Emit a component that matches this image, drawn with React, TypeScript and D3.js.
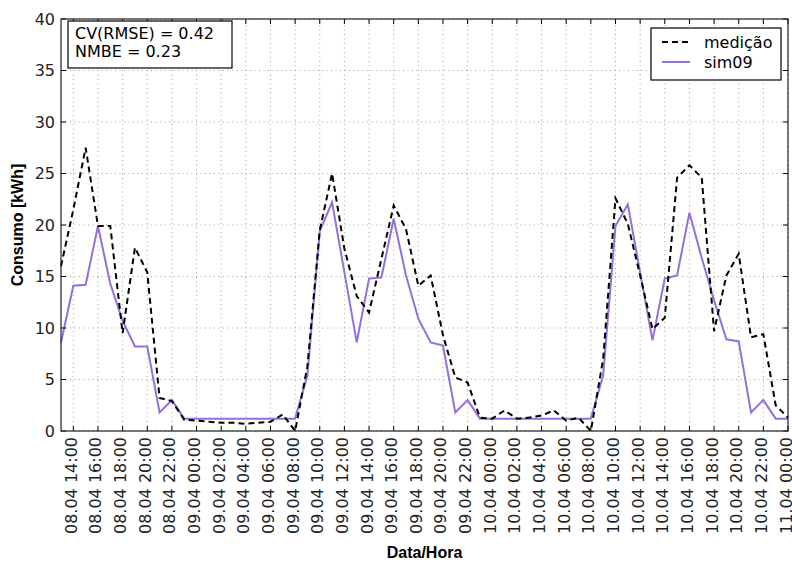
import { useEffect, useRef } from 'react';
import * as d3 from 'd3';

// hourly values, 08.04 13:00 -> 11.04 00:00
const start = new Date(2014, 3, 8, 13);
const end = new Date(2014, 3, 11, 0);

const medicao = [
  16.0, 21.5, 27.5, 19.9, 19.9, 9.5, 17.8, 15.4, 3.2, 2.9,
  1.1, 1.0, 0.9, 0.8, 0.8, 0.7, 0.8, 0.9, 1.6, 0.0,
  6.3, 19.5, 25.0, 17.7, 13.1, 11.5, 16.7, 21.9, 19.6, 14.1,
  15.1, 9.3, 5.2, 4.7, 1.3, 1.2, 2.0, 1.2, 1.3, 1.5,
  2.0, 1.0, 1.3, 0.0, 7.0, 22.6, 20.1, 15.1, 9.9, 11.0,
  24.6, 25.8, 24.6, 9.7, 15.1, 17.2, 9.1, 9.4, 2.5, 1.3,
];

const sim09 = [
  8.6, 14.1, 14.2, 19.9, 14.3, 10.7, 8.2, 8.2, 1.8, 3.0,
  1.2, 1.2, 1.2, 1.2, 1.2, 1.2, 1.2, 1.2, 1.2, 1.2,
  5.4, 19.4, 22.2, 15.4, 8.6, 14.8, 14.9, 20.6, 15.1, 10.9,
  8.6, 8.3, 1.8, 3.0, 1.2, 1.2, 1.2, 1.2, 1.2, 1.2,
  1.2, 1.2, 1.2, 1.2, 5.4, 19.9, 22.0, 15.4, 8.8, 14.8,
  15.1, 21.2, 16.8, 12.7, 8.9, 8.7, 1.8, 3.0, 1.2, 1.2,
];

const yTicks = [0, 5, 10, 15, 20, 25, 30, 35, 40];
const statsLines = ['CV(RMSE) = 0.42', 'NMBE = 0.23'];
const seriesNames = ['medição', 'sim09'];

const App = () => {
  const svgRef = useRef<SVGSVGElement>(null);

  useEffect(() => {
    const width = 792;
    const height = 563;
    const margin = { top: 19, right: 4, bottom: 132, left: 61 };
    const tickFont = 'DejaVu Sans, sans-serif';

    const svg = d3.select(svgRef.current);
    svg.selectAll('*').remove();
    svg.attr('width', width).attr('height', height);

    svg.append('rect').attr('width', width).attr('height', height).attr('fill', '#fff');

    const x = d3.scaleTime()
      .domain([start, end])
      .range([margin.left, width - margin.right]);
    const y = d3.scaleLinear()
      .domain([0, 40])
      .range([height - margin.bottom, margin.top]);

    const x0 = x.range()[0], x1 = x.range()[1];
    const y0 = y.range()[0], y1 = y.range()[1];

    const xTicks = d3.timeHour.every(2)!.range(new Date(2014, 3, 8, 14), d3.timeHour.offset(end, 1));
    const fmt = d3.timeFormat('%d.%m %H:%M');

    // grid
    const grid = svg.append('g')
      .attr('stroke', '#8a8a8a')
      .attr('stroke-width', 0.8)
      .attr('stroke-dasharray', '1,3.5');
    grid.selectAll('.gx').data(xTicks).enter().append('line')
      .attr('x1', d => x(d)).attr('x2', d => x(d))
      .attr('y1', y0).attr('y2', y1);
    grid.selectAll('.gy').data(yTicks).enter().append('line')
      .attr('x1', x0).attr('x2', x1)
      .attr('y1', d => y(d)).attr('y2', d => y(d));

    // series
    const idx = (i: number) => d3.timeHour.offset(start, i);
    const line = d3.line<number>()
      .x((_, i) => x(idx(i)))
      .y(d => y(d));

    svg.append('path')
      .datum(sim09)
      .attr('fill', 'none')
      .attr('stroke', '#9370db')
      .attr('stroke-width', 2)
      .attr('d', line);

    svg.append('path')
      .datum(medicao)
      .attr('fill', 'none')
      .attr('stroke', '#000')
      .attr('stroke-width', 2)
      .attr('stroke-dasharray', '6,4')
      .attr('d', line);

    // ticks (inward, all four sides)
    const ticks = svg.append('g').attr('stroke', '#000').attr('stroke-width', 1);
    xTicks.forEach(t => {
      ticks.append('line').attr('x1', x(t)).attr('x2', x(t)).attr('y1', y0).attr('y2', y0 - 5);
      ticks.append('line').attr('x1', x(t)).attr('x2', x(t)).attr('y1', y1).attr('y2', y1 + 5);
    });
    yTicks.forEach(t => {
      ticks.append('line').attr('x1', x0).attr('x2', x0 + 5).attr('y1', y(t)).attr('y2', y(t));
      ticks.append('line').attr('x1', x1).attr('x2', x1 - 5).attr('y1', y(t)).attr('y2', y(t));
    });

    // frame
    svg.append('rect')
      .attr('x', x0).attr('y', y1)
      .attr('width', x1 - x0).attr('height', y0 - y1)
      .attr('fill', 'none').attr('stroke', '#222').attr('stroke-width', 1.2);

    // tick labels
    svg.append('g').selectAll('text').data(yTicks).enter().append('text')
      .attr('x', x0 - 6)
      .attr('y', d => y(d))
      .attr('text-anchor', 'end')
      .attr('dominant-baseline', 'central')
      .style('font-family', tickFont)
      .style('font-size', '16px')
      .attr('fill', '#222')
      .text(d => d);

    svg.append('g').selectAll('text').data(xTicks).enter().append('text')
      .attr('transform', d => `translate(${x(d) - 2},${y0 + 6}) rotate(-90)`)
      .attr('text-anchor', 'end')
      .attr('dominant-baseline', 'central')
      .style('font-family', tickFont)
      .style('font-size', '16px')
      .attr('fill', '#222')
      .text(d => fmt(d));

    // axis titles
    svg.append('text')
      .attr('x', (x0 + x1) / 2)
      .attr('y', 558)
      .attr('text-anchor', 'middle')
      .style('font-family', 'Liberation Sans, Arial, sans-serif')
      .style('font-weight', 'bold')
      .style('font-size', '16px')
      .text('Data/Hora');

    svg.append('text')
      .attr('transform', `translate(23,${(y0 + y1) / 2}) rotate(-90)`)
      .attr('text-anchor', 'middle')
      .style('font-family', 'Liberation Sans, Arial, sans-serif')
      .style('font-weight', 'bold')
      .style('font-size', '16px')
      .text('Consumo [kWh]');

    // stats box
    svg.append('rect')
      .attr('x', 68).attr('y', 21).attr('width', 164).attr('height', 47)
      .attr('fill', '#fff').attr('stroke', '#000').attr('stroke-width', 1.2);
    svg.append('g').selectAll('text').data(statsLines).enter().append('text')
      .attr('x', 75)
      .attr('y', (_, i) => 38.5 + i * 18.8)
      .style('font-family', tickFont)
      .style('font-size', '16px')
      .text(d => d);

    // legend
    const lg = svg.append('g');
    lg.append('rect')
      .attr('x', 651).attr('y', 28).attr('width', 130).attr('height', 52)
      .attr('fill', '#fff').attr('stroke', '#000').attr('stroke-width', 1.2);
    const styles = [
      { color: '#000', dash: '6,4' },
      { color: '#9370db', dash: null },
    ];
    seriesNames.forEach((name, i) => {
      const ly = 42 + i * 20;
      lg.append('line')
        .attr('x1', 662).attr('x2', 690).attr('y1', ly).attr('y2', ly)
        .attr('stroke', styles[i].color).attr('stroke-width', 2)
        .attr('stroke-dasharray', styles[i].dash);
      lg.append('text')
        .attr('x', 704).attr('y', ly)
        .attr('dominant-baseline', 'central')
        .style('font-family', tickFont)
        .style('font-size', '16px')
        .text(name);
    });
  }, []);

  return <svg ref={svgRef} style={{ position: 'absolute', left: 0, top: 0 }}></svg>;
};

export default App;
